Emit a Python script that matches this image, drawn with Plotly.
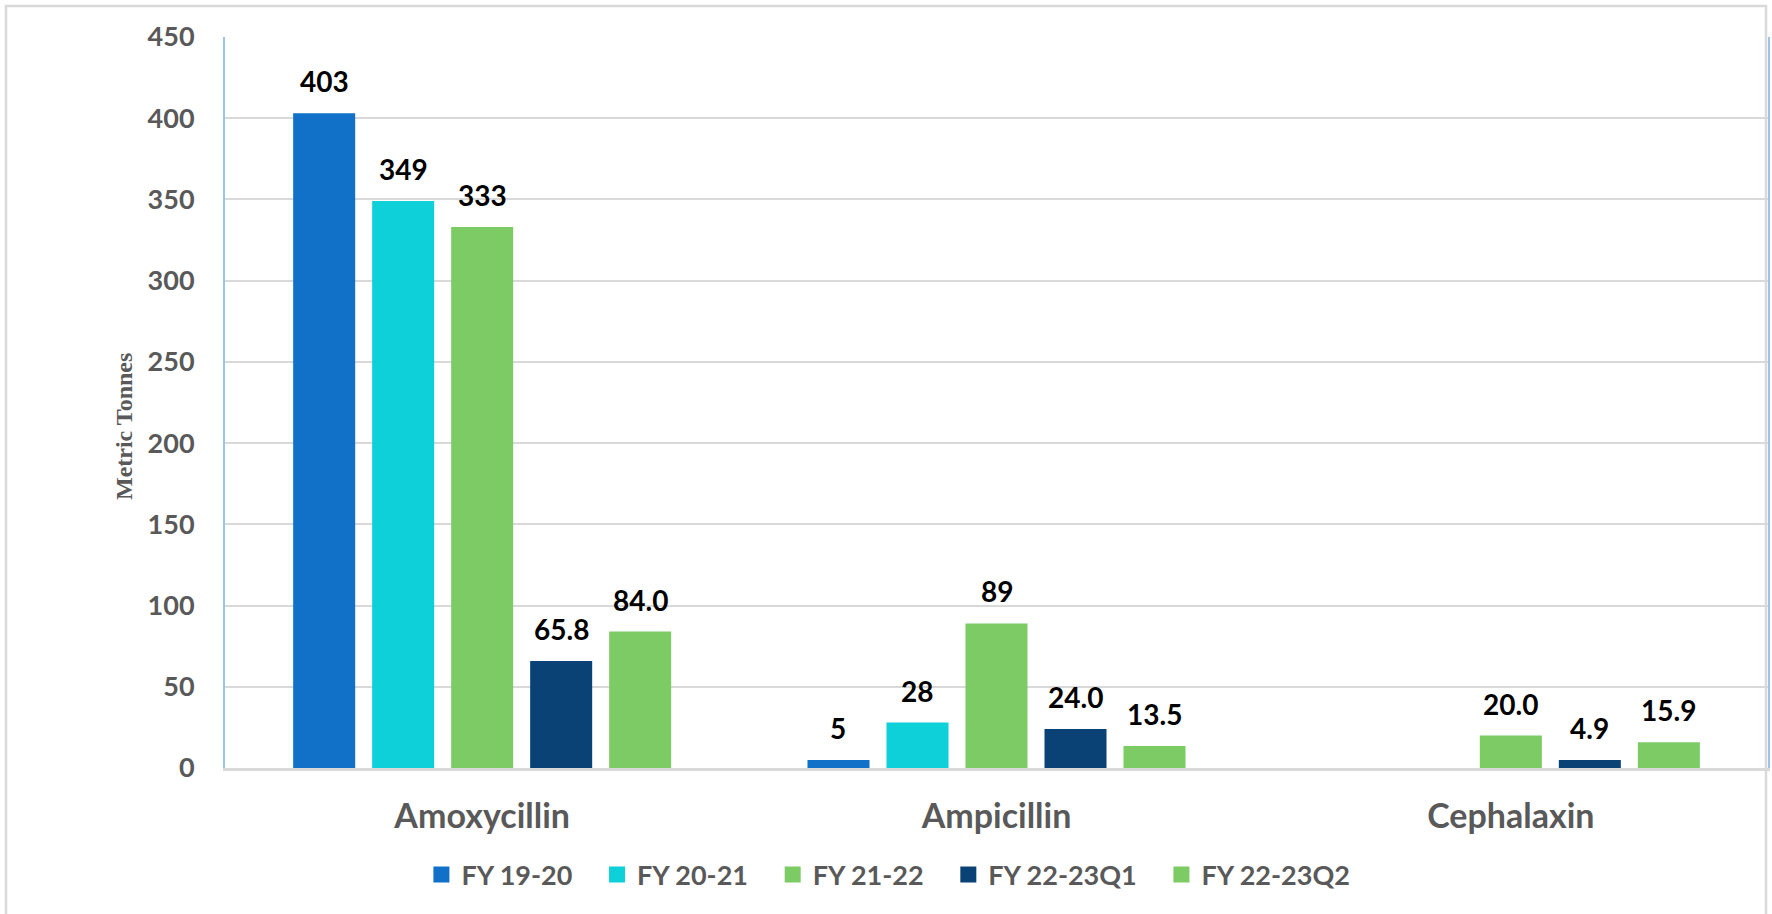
import plotly.graph_objects as go

# ---- data ----
categories = ["Amoxycillin", "Ampicillin", "Cephalaxin"]
series_names = ["FY 19-20", "FY 20-21", "FY 21-22", "FY 22-23Q1", "FY 22-23Q2"]
fy_19_20 = [403, 5, None]
fy_20_21 = [349, 28, None]
fy_21_22 = [333, 89, 20.0]
fy_22_23_q1 = [65.8, 24.0, 4.9]
fy_22_23_q2 = [84.0, 13.5, 15.9]
value_labels = [
    ["403", "5", ""],
    ["349", "28", ""],
    ["333", "89", "20.0"],
    ["65.8", "24.0", "4.9"],
    ["84.0", "13.5", "15.9"],
]
y_ticks = [0, 50, 100, 150, 200, 250, 300, 350, 400, 450]
y_title = "Metric Tonnes"

series_values = [fy_19_20, fy_20_21, fy_21_22, fy_22_23_q1, fy_22_23_q2]
colors = ["#1170C8", "#0DD0D9", "#7DCB64", "#0B4276", "#7DCB64"]

# ---- layout constants ----
W, H = 1772, 914
ML, MR, MT, MB = 225, 4, 37, 146
BARGAP = 0.232
BARGROUPGAP = 0.215
FONT = "Lato"
GRAY = "#595959"

fig = go.Figure()
for name, vals, col in zip(series_names, series_values, colors):
    fig.add_trace(go.Bar(
        x=categories, y=vals, name=name, marker=dict(color=col, line=dict(width=0)),
        showlegend=False, hoverinfo="x+y+name",
    ))
# legend proxies with larger square symbols
PAD = "\u00a0" * 3
for name, col in zip(series_names, colors):
    fig.add_trace(go.Scatter(
        x=[None], y=[None], mode="markers", name=name + PAD,
        marker=dict(symbol="square", size=16, color=col), showlegend=True,
    ))

# data labels as annotations above each bar
plot_w = W - ML - MR
plot_h = H - MT - MB
cat_px = plot_w / len(categories)
step = cat_px * (1 - BARGAP) / len(series_names)
n = len(series_names)
for i, (vals, labs) in enumerate(zip(series_values, value_labels)):
    off = (i - (n - 1) / 2) * step
    for c, v, t in zip(categories, vals, labs):
        if v is None or t == "":
            continue
        fig.add_annotation(
            x=c, y=v, xref="x", yref="y", text=t, showarrow=False,
            xshift=off, yshift=13, yanchor="bottom",
            font=dict(family=FONT, size=28, color="#000000", weight="bold"),
        )

# y-axis title
fig.add_annotation(
    x=(124 - ML) / plot_w, y=(H - MB - 427) / plot_h, xref="paper", yref="paper",
    text=y_title, textangle=-90, showarrow=False, xanchor="center", yanchor="middle",
    font=dict(family="Liberation Serif", size=24, color=GRAY, weight="bold"),
)

# outer frame
fig.add_shape(
    type="rect", xref="paper", yref="paper",
    x0=-(ML - 6) / plot_w, x1=(1766 - ML) / plot_w,
    y0=-(MB + 10) / plot_h, y1=1 + (MT - 6) / plot_h,
    line=dict(color="#D9D9D9", width=2.5), fillcolor="rgba(0,0,0,0)", layer="below",
)

fig.update_layout(
    width=W, height=H,
    margin=dict(l=ML, r=MR, t=MT, b=MB, pad=0, autoexpand=False),
    paper_bgcolor="white", plot_bgcolor="white",
    barmode="group", bargap=BARGAP, bargroupgap=BARGROUPGAP,
    font=dict(family=FONT, color=GRAY),
    legend=dict(
        orientation="h", xref="container", yref="container",
        x=0.507, xanchor="center", y=(H - 875) / H, yanchor="middle",
        font=dict(family=FONT, size=27, color=GRAY, weight="bold"),
        itemclick=False, tracegroupgap=0,
    ),
    xaxis=dict(
        type="category", showgrid=False, showline=True, linecolor="#D9D9D9", linewidth=3,
        tickfont=dict(family=FONT, size=34, color=GRAY, weight="bold"),
        ticks="", ticklabelstandoff=16, zeroline=False,
    ),
    yaxis=dict(
        range=[0, 450], tickvals=y_ticks, showgrid=True, gridcolor="#D9D9D9", gridwidth=2,
        showline=True, linecolor="#9DC3E6", linewidth=2, mirror=True,
        zeroline=False, ticks="", ticklabelstandoff=23,
        tickfont=dict(family=FONT, size=27, color=GRAY, weight="bold"),
    ),
)

fig.write_html(
    "out.html",
    config={"displayModeBar": False},
    post_script="document.body.style.margin='0';document.body.style.overflow='hidden';",
)
